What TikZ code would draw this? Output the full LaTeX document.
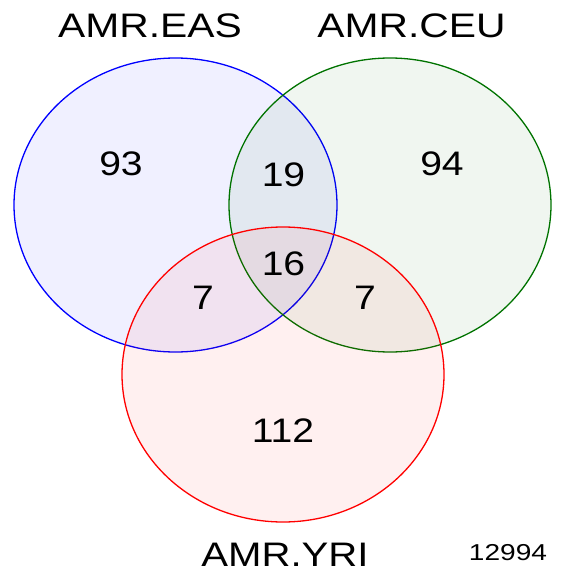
\documentclass[tikz,border=0pt]{standalone}
\usepackage{fontspec}
\setmainfont{Liberation Sans}
\begin{document}
\begin{tikzpicture}[x=1pt,y=-1pt,
  setA/.style={draw=blue, line width=1.3pt, fill=blue, fill opacity=0.06},
  setB/.style={draw=green!45!black, line width=1.3pt, fill=green!40!black, fill opacity=0.06},
  setC/.style={draw=red, line width=1.3pt, fill=red, fill opacity=0.06},
  lbl/.style={inner sep=0pt, font=\fontsize{34}{34}\selectfont},
  cnt/.style={inner sep=0pt, font=\fontsize{34}{34}\selectfont},
  tot/.style={inner sep=0pt, font=\fontsize{23}{23}\selectfont}]
\useasboundingbox (0,0) rectangle (579,573);
\path[setA] (175.5,205) ellipse [x radius=161.5, y radius=147];
\path[setB] (390,205) ellipse [x radius=161, y radius=147];
\path[setC] (283,374.5) ellipse [x radius=161, y radius=147.5];
\node[lbl] (la) at (150,26) {\scalebox{1.2}[1]{AMR.EAS}};
\node[lbl] (lb) at (411.5,26) {\scalebox{1.2}[1]{AMR.CEU}};
\node[lbl] (lc) at (285,555) {\scalebox{1.18}[1]{AMR.YRI}};
\node[tot] (tt) at (508,553) {\scalebox{1.22}[1]{12994}};
\node[cnt] (n93) at (121,164) {\scalebox{1.15}[1]{93}};
\node[cnt] (n94) at (442,164) {\scalebox{1.15}[1]{94}};
\node[cnt] (n19) at (283.5,175) {\scalebox{1.15}[1]{19}};
\node[cnt] (n16) at (283.5,263.5) {\scalebox{1.15}[1]{16}};
\node[cnt] (n7a) at (203,298) {\scalebox{1.15}[1]{7}};
\node[cnt] (n7b) at (365,298) {\scalebox{1.15}[1]{7}};
\node[cnt] (n112) at (283,431) {\scalebox{1.15}[1]{112}};
\end{tikzpicture}
\end{document}
